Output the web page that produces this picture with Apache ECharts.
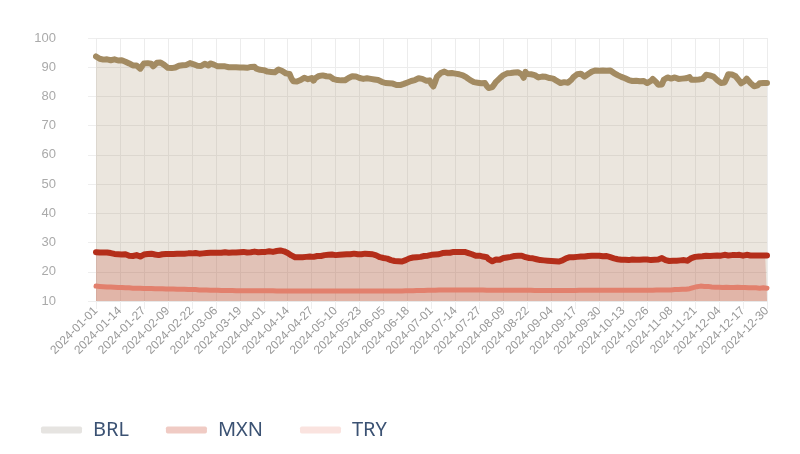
<!DOCTYPE html>
<html>
<head>
<meta charset="utf-8">
<script src="https://cdn.jsdelivr.net/npm/echarts@6/dist/echarts.min.js"></script>
<style>html,body{margin:0;padding:0;background:#fff;}#main{width:800px;height:454px;}</style>
</head>
<body>
<div id="main"></div>
<script>
// Categories: consecutive days 2024-01-01 .. 2024-12-30
const startDate = '2024-01-01';
const dayCount = 365;
const seriesNames = ['BRL', 'MXN', 'TRY'];
const yTicks = [10, 20, 30, 40, 50, 60, 70, 80, 90, 100];

const brl = [
93.7,93.3,92.9,92.6,92.6,92.5,92.7,92.6,92.4,92.6,92.7,92.5,92.3,
92.6,92.4,92.2,91.9,91.6,91.3,91.0,90.6,90.4,90.6,90.0,89.5,90.4,
91.3,91.5,91.4,91.6,91.2,90.3,90.8,91.5,91.7,91.6,91.3,90.8,90.2,
89.8,89.6,89.7,89.6,89.9,90.4,90.5,90.5,90.7,90.6,90.8,90.9,91.4,
91.5,91.0,90.6,90.5,90.6,90.4,90.8,91.2,91.0,90.6,91.3,91.4,90.9,
90.4,90.3,90.5,90.3,90.2,90.3,90.1,90.0,90.1,90.0,89.9,90.0,89.9,
89.9,89.8,89.9,89.9,89.8,89.7,90.1,90.6,90.2,89.5,89.2,89.1,89.2,
89.0,88.7,88.5,88.6,88.4,88.5,88.3,88.6,89.2,89.3,88.7,88.1,87.9,
88.0,87.7,86.2,85.2,85.0,85.1,85.3,85.6,86.0,86.4,86.2,85.9,86.1,
86.3,85.4,86.3,86.9,87.0,86.9,87.2,87.0,86.9,87.1,86.8,86.4,85.9,
85.5,85.6,85.4,85.5,85.7,85.5,85.9,86.3,86.7,86.9,86.7,86.8,86.5,
86.3,86.2,86.0,86.1,86.2,85.9,86.0,86.1,85.8,85.9,85.6,85.3,85.0,
84.9,84.6,84.8,84.5,84.2,84.4,84.0,83.9,84.1,83.9,84.2,84.3,84.6,
84.8,85.1,85.3,85.4,85.6,85.9,86.2,86.4,86.0,85.6,85.4,85.8,85.5,
84.2,83.4,85.0,86.8,87.4,88.0,88.3,88.5,88.1,87.9,88.1,88.0,87.7,
87.8,87.5,87.6,87.3,87.2,86.7,86.5,86.4,85.6,85.2,84.9,85.0,84.7,
84.9,84.5,84.3,84.6,83.6,82.9,82.8,83.2,84.1,85.0,85.6,86.2,86.8,
87.3,87.6,87.9,88.1,88.0,87.8,88.2,87.9,88.3,88.0,87.5,86.4,88.4,
87.7,87.4,87.6,88.2,87.3,86.9,86.5,86.6,86.8,86.4,86.7,86.5,86.3,
86.6,86.1,85.6,85.3,84.8,84.6,84.3,84.9,85.2,84.7,84.2,85.8,86.6,
87.2,87.6,87.3,87.8,87.6,86.8,86.6,87.7,88.3,88.5,88.7,88.9,88.6,
88.8,89.1,88.9,88.6,88.8,88.5,88.9,88.4,88.0,87.7,87.3,87.0,86.7,
86.5,86.2,86.0,85.6,85.2,85.3,85.1,85.4,85.0,85.2,84.9,85.3,84.7,
84.6,84.5,85.3,86.0,85.5,84.8,84.0,83.6,84.1,85.7,86.3,86.5,86.4,
86.1,86.3,86.5,86.2,86.0,86.3,86.1,86.4,86.2,86.3,86.6,85.7,85.5,
85.7,85.4,85.8,85.6,86.0,86.3,87.4,87.8,87.2,87.4,86.8,86.2,85.6,
85.1,84.6,84.3,84.8,86.1,87.6,87.2,87.5,87.6,86.9,86.5,85.3,84.5,
84.2,85.3,86.1,85.6,84.6,84.2,83.5,83.2,83.8,84.5,84.4,84.6,84.5,
84.6
];

const mxn = [
26.7,26.6,26.6,26.5,26.6,26.5,26.6,26.5,26.4,26.2,26.1,26.2,26.0,
26.1,25.9,25.8,26.0,25.7,25.5,25.6,25.4,25.5,25.7,25.4,25.2,25.5,
25.9,26.0,26.1,26.0,26.2,26.1,25.9,25.8,25.7,25.9,26.0,25.9,26.1,
26.0,26.1,26.2,26.1,26.0,26.2,26.1,26.2,26.3,26.2,26.1,26.3,26.2,
26.3,26.2,26.4,26.3,26.2,26.4,26.3,26.5,26.4,26.3,26.5,26.4,26.5,
26.6,26.5,26.6,26.5,26.6,26.7,26.6,26.5,26.7,26.6,26.7,26.6,26.8,
26.7,26.6,26.8,26.7,26.6,26.8,26.7,26.8,26.9,26.8,26.7,26.9,26.8,
26.9,26.8,26.9,27.0,26.9,26.8,27.0,27.1,27.2,27.3,27.1,27.0,26.7,
26.4,26.0,25.6,25.2,25.0,24.9,25.0,24.8,25.0,24.9,25.1,25.0,25.2,
25.3,25.1,25.3,25.4,25.5,25.4,25.6,25.7,25.6,25.8,25.7,25.9,25.8,
25.7,25.9,25.8,26.0,25.9,26.1,26.0,26.1,26.0,26.1,26.2,26.1,26.0,
26.1,26.0,26.1,26.2,26.0,26.1,25.9,26.0,25.7,25.6,25.3,25.0,24.9,
24.7,24.8,24.5,24.3,24.0,23.9,23.7,23.6,23.6,23.7,23.5,23.7,24.0,
24.4,24.6,24.8,24.9,24.8,25.0,25.2,25.1,25.3,25.4,25.3,25.5,25.7,
25.8,25.7,25.9,26.1,26.0,26.2,26.4,26.3,26.5,26.6,26.5,26.7,26.8,
26.7,26.8,26.9,26.8,26.7,26.8,26.6,26.4,26.2,26.0,25.8,25.5,25.4,
25.5,25.3,25.2,25.3,25.0,24.3,23.8,23.6,23.9,24.2,24.4,24.1,24.3,
24.7,25.0,24.9,25.2,25.1,25.3,25.4,25.3,25.5,25.4,25.5,25.3,25.0,
24.9,24.7,24.5,24.6,24.4,24.3,24.2,24.0,24.1,23.9,24.0,23.8,23.9,
23.7,23.8,23.6,23.7,23.5,23.6,23.9,24.3,24.6,24.8,25.0,25.1,25.0,
25.2,25.1,25.3,25.2,25.1,25.2,25.3,25.4,25.3,25.5,25.4,25.5,25.4,
25.5,25.4,25.3,25.5,25.4,25.2,25.0,24.8,24.6,24.4,24.3,24.2,24.1,
24.2,24.1,24.2,24.0,24.1,24.2,24.0,24.1,24.2,24.1,24.0,24.2,24.1,
24.2,24.1,24.0,24.2,24.1,24.0,24.2,24.5,24.7,24.4,24.0,23.8,23.7,
23.9,23.8,23.9,23.8,23.7,23.9,23.8,24.0,23.9,23.8,24.1,24.7,25.0,
25.1,24.9,25.2,25.0,25.3,25.2,25.5,25.6,25.4,25.3,25.5,25.7,25.6,
25.7,25.5,25.6,25.8,25.7,25.6,25.8,25.7,25.9,25.7,25.6,25.8,25.7,
25.5,25.6,25.8,25.7,25.6,25.7,25.6,25.8,25.6,25.5,25.6,25.7,25.6,
25.6
];

const tryv = [
15.1,15.0,15.0,14.9,14.9,14.9,14.8,14.8,14.8,14.7,14.7,14.7,14.6,
14.6,14.6,14.6,14.5,14.5,14.5,14.5,14.4,14.4,14.4,14.4,14.4,14.3,
14.3,14.3,14.3,14.3,14.3,14.2,14.2,14.2,14.2,14.2,14.2,14.1,14.1,
14.1,14.1,14.1,14.1,14.0,14.0,14.0,14.0,14.0,14.0,13.9,13.9,13.9,
13.9,13.9,13.9,13.8,13.8,13.8,13.8,13.8,13.8,13.7,13.7,13.7,13.7,
13.7,13.7,13.7,13.6,13.6,13.6,13.6,13.6,13.6,13.6,13.6,13.5,13.5,
13.5,13.5,13.5,13.5,13.5,13.5,13.5,13.5,13.5,13.5,13.5,13.5,13.5,
13.5,13.5,13.5,13.5,13.5,13.5,13.4,13.4,13.4,13.4,13.4,13.4,13.4,
13.4,13.4,13.4,13.4,13.4,13.4,13.4,13.4,13.4,13.4,13.4,13.4,13.4,
13.4,13.4,13.4,13.4,13.4,13.4,13.4,13.4,13.4,13.4,13.4,13.4,13.4,
13.4,13.4,13.4,13.4,13.4,13.4,13.4,13.4,13.4,13.4,13.4,13.4,13.4,
13.4,13.4,13.4,13.4,13.4,13.4,13.4,13.4,13.4,13.4,13.4,13.4,13.4,
13.4,13.4,13.4,13.4,13.4,13.4,13.4,13.4,13.4,13.4,13.4,13.4,13.5,
13.5,13.5,13.5,13.5,13.5,13.6,13.6,13.6,13.6,13.6,13.6,13.7,13.7,
13.7,13.7,13.7,13.7,13.8,13.8,13.8,13.8,13.8,13.8,13.8,13.8,13.8,
13.8,13.8,13.8,13.8,13.8,13.8,13.8,13.8,13.8,13.8,13.8,13.8,13.8,
13.8,13.8,13.8,13.8,13.7,13.7,13.7,13.7,13.7,13.7,13.7,13.7,13.7,
13.7,13.7,13.7,13.7,13.7,13.7,13.7,13.7,13.7,13.7,13.7,13.7,13.7,
13.7,13.7,13.7,13.7,13.6,13.6,13.6,13.6,13.6,13.6,13.6,13.6,13.6,
13.6,13.6,13.6,13.6,13.6,13.6,13.6,13.6,13.6,13.6,13.6,13.6,13.6,
13.6,13.7,13.7,13.7,13.7,13.7,13.7,13.7,13.7,13.7,13.7,13.7,13.7,
13.7,13.7,13.7,13.7,13.7,13.7,13.7,13.7,13.7,13.7,13.7,13.7,13.7,
13.7,13.7,13.7,13.7,13.7,13.7,13.7,13.7,13.7,13.7,13.7,13.7,13.7,
13.7,13.7,13.7,13.7,13.7,13.8,13.8,13.8,13.8,13.8,13.8,13.8,13.8,
13.8,13.8,13.9,13.9,13.9,13.9,14.0,14.0,14.0,14.1,14.2,14.4,14.6,
14.8,14.9,15.0,15.1,15.1,15.0,15.1,15.0,14.9,14.8,14.8,14.7,14.7,
14.7,14.6,14.6,14.7,14.7,14.7,14.6,14.6,14.6,14.7,14.7,14.6,14.6,
14.6,14.6,14.6,14.5,14.5,14.5,14.5,14.5,14.5,14.4,14.5,14.5,14.4,
14.4
];

// build date category labels
const dates = [];
(function(){
  const d0 = new Date(startDate + 'T00:00:00Z');
  for (let i = 0; i < dayCount; i++) {
    const d = new Date(d0.getTime() + i * 86400000);
    dates.push(d.toISOString().slice(0, 10));
  }
})();

const chart = echarts.init(document.getElementById('main'), null, {renderer: 'canvas'});
const lineColors = ['#a38b62', '#b42e1a', '#e2806d'];
const areaColors = ['rgba(160,138,100,0.21)', 'rgba(185,50,28,0.20)', 'rgba(226,128,110,0.20)'];
const legendColors = ['#e6e4e1', '#f0cbc4', '#fae3df'];
const values = [brl, mxn, tryv];

chart.setOption({
  animation: false,
  backgroundColor: '#ffffff',
  grid: {left: 96, right: 33, top: 38, bottom: 153},
  legend: {
    left: 36, top: 415,
    icon: 'roundRect',
    itemWidth: 41, itemHeight: 7, itemGap: 37,
    textStyle: {color: '#3b5273', fontSize: 20, fontFamily: 'Noto Sans', padding: [0, 0, 0, 6]},
    data: seriesNames.map((n, i) => ({name: n, itemStyle: {color: legendColors[i]}, lineStyle: {color: legendColors[i]}}))
  },
  xAxis: {
    type: 'category',
    data: dates,
    boundaryGap: false,
    axisLine: {show: true, lineStyle: {color: '#e8e8e8'}},
    axisTick: {show: true, interval: 12, length: 8, lineStyle: {color: '#eeeeee'}},
    axisLabel: {interval: 12, rotate: 45, color: '#999999', fontSize: 12, fontFamily: 'Liberation Sans', margin: 8},
    splitLine: {show: true, interval: 12, lineStyle: {color: '#ececec'}}
  },
  yAxis: {
    type: 'value',
    min: yTicks[0], max: yTicks[yTicks.length - 1], interval: 10,
    axisLine: {show: false},
    axisTick: {show: true, length: 8, lineStyle: {color: '#eeeeee'}},
    axisLabel: {color: '#aaaaaa', fontSize: 13, fontFamily: 'Liberation Sans', margin: 40},
    splitLine: {show: true, lineStyle: {color: '#ececec'}}
  },
  series: seriesNames.map((n, i) => ({
    name: n,
    type: 'line',
    data: values[i],
    showSymbol: false,
    smooth: false,
    lineStyle: {color: lineColors[i], width: i === 2 ? 5 : 6, join: 'round', cap: 'round'},
    itemStyle: {color: lineColors[i]},
    areaStyle: {color: areaColors[i], opacity: 1},
    z: 2 + i
  }))
});
</script>
</body>
</html>
